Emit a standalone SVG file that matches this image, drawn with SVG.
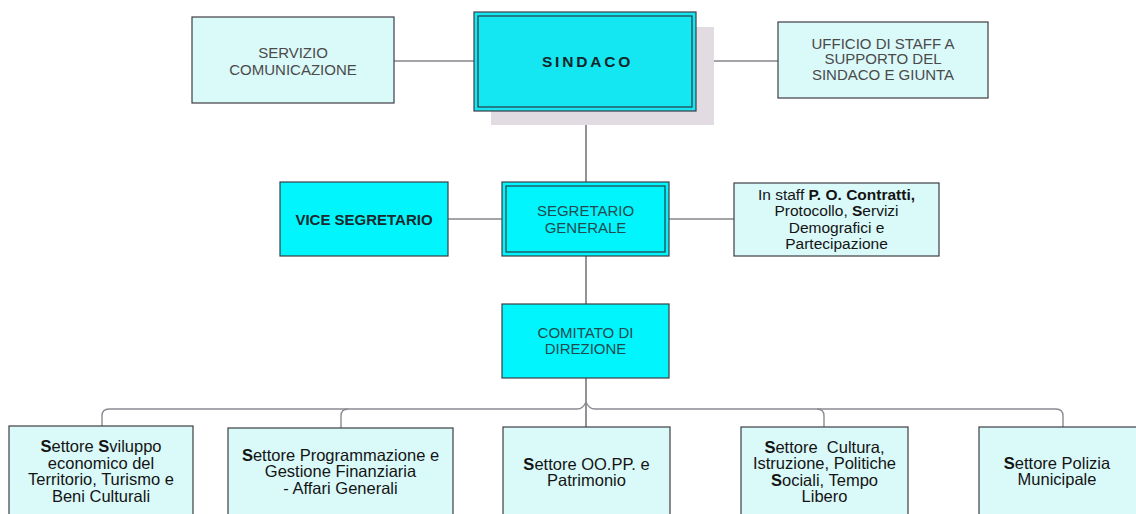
<svg xmlns="http://www.w3.org/2000/svg" width="1136" height="514" viewBox="0 0 1136 514">
<style>
.light{fill:#daf9f9;stroke:#3c3c44;stroke-width:1.2}
.cyan{fill:#00f6fc;stroke:#3c3c44;stroke-width:1.2}
.inner{fill:none;stroke:#2a3a44;stroke-width:1.2}
.conn{fill:none;stroke:#4a4a52;stroke-width:1.2}
.bus{fill:none;stroke:#8c8a92;stroke-width:1.4}
text{font-family:"Liberation Sans",Arial,sans-serif;text-anchor:middle}
.up{font-size:15px;fill:#4a4a4a}
.upc{font-size:15px;fill:#1f4a50}
.sec{font-size:16.5px;fill:#141414}
.st{font-size:15.5px;fill:#141414}
.b{font-weight:bold}
</style>
<g id="connectors">
<path class="conn" d="M394,61 H474"/>
<path class="conn" d="M696,61 H778"/>
<path class="conn" d="M586,111 V182"/>
<path class="conn" d="M448,219 H502"/>
<path class="conn" d="M669,219 H734"/>
<path class="conn" d="M586,256 V304"/>
<path class="conn" d="M586,378 V427"/>
<path class="bus" d="M109,409 H577 Q583,409 586,402"/>
<path class="bus" d="M1056,409 H595 Q589,409 586,402"/>
<path class="bus" d="M102,426 V416 Q102,409 109,409"/>
<path class="bus" d="M341,428 V416 Q341,409 348,409"/>
<path class="bus" d="M824,427 V416 Q824,409 817,409"/>
<path class="bus" d="M1063,427 V416 Q1063,409 1056,409"/>
</g>
<g id="servizio">
<rect class="light" x="192" y="17" width="202" height="86"/>
<text class="up" x="293" y="57.5">SERVIZIO</text>
<text class="up" x="293" y="74.5">COMUNICAZIONE</text>
</g>
<g id="sindaco">
<rect x="491" y="27" width="223" height="98" fill="#e2dce2"/>
<rect class="cyan" x="474" y="12" width="222" height="99" style="fill:#14e6f2"/>
<rect class="inner" x="478" y="16" width="214" height="91"/>
<text x="587.5" y="66.5" font-size="15.5" font-weight="bold" letter-spacing="2.8" fill="#10262a">SINDACO</text>
</g>
<g id="ufficio">
<rect class="light" x="778" y="22" width="210" height="76"/>
<text class="up" x="883" y="48.8">UFFICIO DI STAFF A</text>
<text class="up" x="883" y="63.8">SUPPORTO DEL</text>
<text class="up" x="883" y="79.8">SINDACO E GIUNTA</text>
</g>
<g id="vice">
<rect class="cyan" x="280" y="182" width="168" height="74"/>
<text x="364" y="224.5" font-size="15" font-weight="bold" fill="#1a2a2e">VICE SEGRETARIO</text>
</g>
<g id="segretario">
<rect class="cyan" x="502" y="182" width="167" height="74"/>
<rect class="inner" x="506" y="186" width="159" height="66"/>
<text class="upc" x="585.5" y="215.5">SEGRETARIO</text>
<text class="upc" x="585.5" y="232.5">GENERALE</text>
</g>
<g id="staff">
<rect class="light" x="734" y="183" width="205" height="73"/>
<text class="st" x="836.5" y="199.5">In staff <tspan class="b">P. O. Contratti,</tspan></text>
<text class="st" x="836.5" y="216">Protocollo, <tspan class="b">S</tspan>ervizi</text>
<text class="st" x="836.5" y="232.5">Demografici e</text>
<text class="st" x="836.5" y="248.5">Partecipazione</text>
</g>
<g id="comitato">
<rect class="cyan" x="502" y="304" width="167" height="74"/>
<text class="upc" x="585.5" y="337.5">COMITATO DI</text>
<text class="upc" x="585.5" y="353.5">DIREZIONE</text>
</g>
<g id="settore-sviluppo">
<rect class="light" x="9" y="426" width="184" height="100"/>
<text class="sec" x="101" y="452"><tspan class="b">S</tspan>ettore <tspan class="b">S</tspan>viluppo</text>
<text class="sec" x="101" y="468.5">economico del</text>
<text class="sec" x="101" y="485">Territorio, Turismo e</text>
<text class="sec" x="101" y="501.5">Beni Culturali</text>
</g>
<g id="settore-programmazione">
<rect class="light" x="228" y="428" width="225" height="100"/>
<text class="sec" x="340.5" y="460.5"><tspan class="b">S</tspan>ettore Programmazione e</text>
<text class="sec" x="340.5" y="477">Gestione Finanziaria</text>
<text class="sec" x="340.5" y="493.5">- Affari Generali</text>
</g>
<g id="settore-oopp">
<rect class="light" x="503" y="427" width="167" height="100"/>
<text class="sec" x="586.5" y="469.5"><tspan class="b">S</tspan>ettore OO.PP. e</text>
<text class="sec" x="586.5" y="485.5">Patrimonio</text>
</g>
<g id="settore-cultura">
<rect class="light" x="741" y="427" width="167" height="100"/>
<text class="sec" x="824.5" y="452.5"><tspan class="b">S</tspan>ettore&#160; Cultura,</text>
<text class="sec" x="824.5" y="469">Istruzione, Politiche</text>
<text class="sec" x="824.5" y="485.5"><tspan class="b">S</tspan>ociali, Tempo</text>
<text class="sec" x="824.5" y="502">Libero</text>
</g>
<g id="settore-polizia">
<rect class="light" x="979" y="427" width="170" height="100"/>
<text class="sec" x="1057" y="468.5"><tspan class="b">S</tspan>ettore Polizia</text>
<text class="sec" x="1057" y="484.5">Municipale</text>
</g>
</svg>
